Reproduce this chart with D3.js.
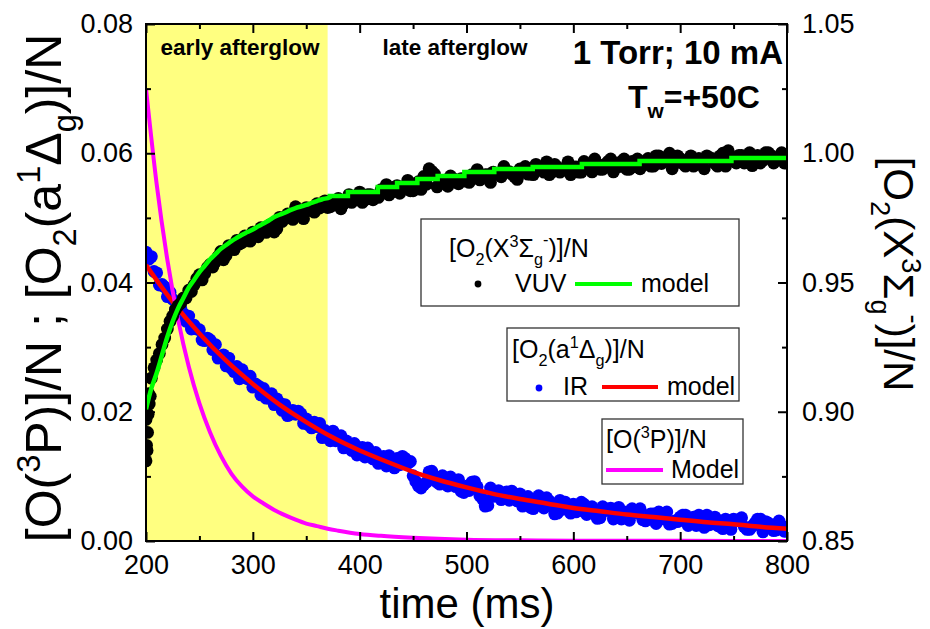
<!DOCTYPE html>
<html><head><meta charset="utf-8">
<script src="https://cdn.jsdelivr.net/npm/d3@7"></script>
<style>
body{margin:0;background:#fff}
svg{display:block}
text{font-family:"Liberation Sans",Arial,sans-serif;fill:#000}
</style>
</head><body>
<svg id="c" width="930" height="629"></svg>
<script>
// ---------------- data ----------------
const sampleStart = 200, sampleEnd = 800, sampleStep = 5; // ms
// IR measurement of [O2(a1Δg)]/N (left axis), samples at 200, 205, ... 800 ms
const irData = [
 .0447,.0440,.0415,.0397,.0378,.0374,.0354,.0352,.0348,.0334,
 .0327,.0310,.0311,.0304,.0284,.0271,.0267,.0270,.0265,.0251,
 .0238,.0240,.0236,.0221,.0211,.0214,.0211,.0196,.0196,.0197,
 .0189,.0175,.0177,.0160,.0167,.0170,.0161,.0144,.0146,.0151,
 .0144,.0130,.0135,.0137,.0124,.0116,.0124,.0128,.0131,.0120,
 .0101,.0085,.0087,.0107,.0100,.0088,.0096,.0099,.0084,.0077,
 .0085,.0091,.0084,.0065,.0055,.0069,.0078,.0072,.0063,.0071,
 .0073,.0060,.0052,.0055,.0064,.0067,.0054,.0043,.0049,.0056,
 .0057,.0047,.0057,.0050,.0041,.0036,.0047,.0051,.0041,.0034,
 .0045,.0050,.0043,.0033,.0035,.0042,.0045,.0034,.0026,.0031,
 .0037,.0040,.0030,.0024,.0033,.0040,.0034,.0024,.0019,.0027,
 .0034,.0031,.0022,.0018,.0028,.0034,.0030,.0021,.0017,.0022,
 .0022];
// IR measurement, interleaved samples at 202.5, 207.5, ... 797.5 ms
const irData2 = [
 .0436,.0417,.0396,.0393,.0385,.0358,.0361,.0340,.0328,.0328,
 .0311,.0314,.0296,.0283,.0288,.0283,.0262,.0251,.0257,.0255,
 .0243,.0226,.0221,.0228,.0220,.0202,.0194,.0202,.0201,.0182,
 .0179,.0184,.0182,.0171,.0155,.0155,.0163,.0155,.0140,.0133,
 .0145,.0144,.0127,.0120,.0131,.0132,.0113,.0118,.0128,.0123,
 .0092,.0082,.0091,.0108,.0091,.0101,.0085,.0093,.0095,.0075,
 .0078,.0092,.0070,.0054,.0082,.0076,.0064,.0076,.0077,.0062,
 .0054,.0069,.0050,.0070,.0051,.0062,.0042,.0063,.0060,.0043,
 .0045,.0060,.0041,.0053,.0035,.0053,.0048,.0034,.0052,.0036,
 .0032,.0047,.0050,.0031,.0042,.0027,.0043,.0045,.0027,.0030,
 .0040,.0024,.0037,.0040,.0021,.0025,.0037,.0022,.0034,.0018,
 .0032,.0036,.0018,.0023,.0034,.0014,.0028,.0016,.0031,.0015];
// VUV measurement of [O2(X3Σg-)]/N (right axis), samples at 200, 205, ... 800 ms
const vuvData = [
 .897,.913,.920,.926,.932,.937,.941,.944,.947,.949,
 .953,.9535,.957,.958,.962,.9605,.964,.9663,.9655,.9675,
 .9695,.9677,.9708,.972,.9695,.9752,.975,.975,.9793,.9774,
 .979,.9778,.9805,.9802,.979,.9815,.9825,.9805,.984,.983,
 .985,.982,.984,.983,.9859,.9879,.9849,.9875,.9865,.9895,
 .9855,.989,.991,.994,.992,.9892,.9882,.9912,.9892,.9902,
 .9897,.9917,.9937,.9907,.9917,.9927,.9919,.9949,.9929,.9909,
 .9939,.9949,.9919,.9957,.9937,.9967,.9927,.9947,.9937,.9967,
 .9947,.9927,.9968,.9948,.9978,.9938,.9958,.9978,.9948,.9968,
 .9938,.9968,.9978,.996,.998,.995,.999,.997,1.000,.996,
 .998,.995,.999,.997,.996,.999,.998,.995,1.000,1.001,
 .9972,.9992,.9962,1.0002,.9982,.9962,1.0002,.9992,.9972,1.0002,
 .9972];
// VUV measurement, interleaved samples at 202.5, 207.5, ... 797.5 ms
const vuvData2 = [
 .907,.917,.9225,.9285,.935,.9395,.942,.944,.9465,.9515,
 .951,.9558,.956,.960,.9588,.9643,.9627,.9649,.968,.966,
 .9681,.9712,.9694,.9727,.9708,.9736,.9765,.9744,.9771,.9747,
 .9784,.9772,.9788,.9816,.9793,.9805,.9785,.9815,.981,.983,
 .981,.984,.982,.9829,.9849,.9839,.9869,.9845,.9865,.9855,
 .9875,.986,.988,.993,.987,.9892,.9872,.9902,.9882,.9892,
 .9887,.9907,.9897,.9917,.9887,.9919,.9909,.9929,.9919,.9899,
 .9929,.9919,.9917,.9937,.9927,.9917,.9957,.9927,.9937,.9917,
 .9947,.9927,.9948,.9928,.9958,.9938,.9968,.9928,.9948,.9978,
 .9938,.9948,.994,.997,.995,.999,.996,.998,.994,.999,
 .996,.997,.995,.998,.994,.998,.996,.999,.995,.998,
 .9962,.9992,.9972,.9952,.9992,.9972,1.0002,.9962,.9982,.9962];
// extra VUV points recorded right after the discharge switch-off
const vuvEarlyTime = [200, 200.5, 201, 201.5, 202, 203, 204];
const vuvEarlyData = [.881, .887, .885, .892, .899, .903, .906];

// VUV model (right axis)
const vuvModelTime = [200,205,210,215,220,225,230,235,240,245,250,255,260,265,270,275,280,285,290,295,
  300,305,310,315,320,325,330,335,340,345,350,355,360,365,372,
  372,389,389,417,417,435,435,454,454,473,473,498,498,526,526,562,562,608,608,662,662,748,748,800];
const vuvModelData = [.901,.909,.915,.922,.929,.935,.940,.944,.948,.951,.954,.9565,.959,.961,.963,.9645,.966,.9673,.9685,.9695,
  .9705,.9717,.9728,.974,.9753,.9762,.977,.978,.9788,.9794,.980,.9808,.9815,.9822,.9830,
  .9835,.9835,.985,.985,.9869,.9869,.9885,.9885,.990,.990,.9912,.9912,.9927,.9927,.9939,.9939,.9947,.9947,.9958,.9958,.997,.997,.9982,.9982];

// IR model (left axis)
const irModelTime = [200,225,250,275,300,325,350,375,400,425,450,475,500,525,550,575,600,625,650,675,700,725,750,775,800];
const irModelData = [.0427,.0370,.0321,.0279,.0243,.0211,.0184,.0160,.0140,.0123,.0107,.0094,.0083,.0073,.0065,.0058,.0051,.0046,.0041,.0037,.0033,.0029,.0026,.0022,.0019];

// O(3P) model (left axis)
const oModelTime = [200,210,220,230,240,250,260,270,280,290,300,310,320,330,340,350,360,370,380,400,420,450,500,550,600,700,800];
const oModelData = [.0700,.0552,.0435,.0343,.0270,.0213,.0168,.0132,.0104,.0084,.0069,.0058,.0048,.0040,.0033,.0027,.0023,.0019,.0016,.0011,.0008,.0005,.0002,.0001,.00005,.00002,0];

const earlyAfterglowEnd = 370; // ms
const xMajor = [200,300,400,500,600,700,800];
const xMinor = [250,350,450,550,650,750];
const yLeftMajor = [0,0.02,0.04,0.06,0.08];
const yLeftMinor = [0.01,0.03,0.05,0.07];
const yRightMajor = [0.85,0.90,0.95,1.00,1.05];
const yRightMinor = [0.875,0.925,0.975,1.025];

// ---------------- layout ----------------
const L = 146, R = 787, T = 24, B = 541;
const svg = d3.select("#c");
const x = d3.scaleLinear().domain([200,800]).range([L,R]);
const yL = d3.scaleLinear().domain([0,0.08]).range([B,T]);
const yR = d3.scaleLinear().domain([0.85,1.05]).range([B,T]);
const sampleTimes = d3.range(sampleStart, sampleEnd + 1, sampleStep);
const sampleTimes2 = sampleTimes.slice(0, -1).map(t => t + sampleStep / 2);

svg.append("defs").append("clipPath").attr("id","clip")
  .append("rect").attr("x",L).attr("y",T).attr("width",R-L).attr("height",B-T);

// yellow early-afterglow band
svg.append("rect").attr("x",x(200)).attr("y",T).attr("width",x(earlyAfterglowEnd)-x(200)).attr("height",B-T)
  .attr("fill","#ffff80");

const g = svg.append("g").attr("clip-path","url(#clip)");
const rDot = 6.4;
function dots(vals, times, yScale, color){
  g.append("g").selectAll("circle").data(vals).join("circle")
    .attr("cx",(d,i)=>x(times[i])).attr("cy",d=>yScale(d)).attr("r",rDot).attr("fill",color);
}
// IR points + model
dots(irData, sampleTimes, yL, "#0000ff");
dots(irData2, sampleTimes2, yL, "#0000ff");
g.append("path").datum(irModelData).attr("fill","none").attr("stroke","#ff0000").attr("stroke-width",4.5)
  .attr("d",d3.line().x((d,i)=>x(irModelTime[i])).y(d=>yL(d)).curve(d3.curveMonotoneX));
// O model
g.append("path").datum(oModelData).attr("fill","none").attr("stroke","#ff00ff").attr("stroke-width",4)
  .attr("d",d3.line().x((d,i)=>x(oModelTime[i])).y(d=>yL(d)).curve(d3.curveMonotoneX));
// VUV points + model
dots(vuvData, sampleTimes, yR, "#000");
dots(vuvData2, sampleTimes2, yR, "#000");
dots(vuvEarlyData, vuvEarlyTime, yR, "#000");
g.append("path").datum(vuvModelData).attr("fill","none").attr("stroke","#00ff00").attr("stroke-width",4.5)
  .attr("d",d3.line().x((d,i)=>x(vuvModelTime[i])).y(d=>yR(d)).curve(d3.curveMonotoneX));

// ---------------- axes ----------------
function styleAxis(sel){
  sel.select(".domain").remove();
  sel.selectAll(".tick line").attr("stroke","#000").attr("stroke-width",2);
  sel.selectAll(".tick text").attr("font-size",27).attr("font-family","Liberation Sans, Arial, sans-serif");
}
const MAJ = 9, MIN = 5;
styleAxis(svg.append("g").attr("transform",`translate(0,${B})`)
  .call(d3.axisBottom(x).tickValues(xMajor).tickSize(-MAJ).tickPadding(14).tickFormat(d3.format("d"))));
styleAxis(svg.append("g").attr("transform",`translate(0,${B})`)
  .call(d3.axisBottom(x).tickValues(xMinor).tickSize(-MIN).tickFormat("")));
styleAxis(svg.append("g").attr("transform",`translate(0,${T})`)
  .call(d3.axisTop(x).tickValues(xMajor).tickSize(-MAJ).tickFormat("")));
styleAxis(svg.append("g").attr("transform",`translate(0,${T})`)
  .call(d3.axisTop(x).tickValues(xMinor).tickSize(-MIN).tickFormat("")));
styleAxis(svg.append("g").attr("transform",`translate(${L},0)`)
  .call(d3.axisLeft(yL).tickValues(yLeftMajor).tickSize(-MAJ).tickPadding(13).tickFormat(d3.format(".2f"))));
styleAxis(svg.append("g").attr("transform",`translate(${L},0)`)
  .call(d3.axisLeft(yL).tickValues(yLeftMinor).tickSize(-MIN).tickFormat("")));
styleAxis(svg.append("g").attr("transform",`translate(${R},0)`)
  .call(d3.axisRight(yR).tickValues(yRightMajor).tickSize(-MAJ).tickPadding(15).tickFormat(d3.format(".2f"))));
styleAxis(svg.append("g").attr("transform",`translate(${R},0)`)
  .call(d3.axisRight(yR).tickValues(yRightMinor).tickSize(-MIN).tickFormat("")));

svg.append("rect").attr("x",L).attr("y",T).attr("width",R-L).attr("height",B-T)
  .attr("fill","none").attr("stroke","#000").attr("stroke-width",2);

// ---------------- rich text helper ----------------
function rich(parent, segs, fs, attrs){
  const t = parent.append("text").attr("font-size",fs);
  for (const k in attrs) t.attr(k, attrs[k]);
  let shift = 0;
  segs.forEach(s=>{
    let target = s.s==="sub" ? 0.3*fs : s.s==="sup" ? -0.42*fs : 0;
    if (s.shift !== undefined) target = s.shift*fs;
    const ts = t.append("tspan").text(s.t).attr("dy", target - shift);
    if (s.s) ts.attr("font-size", 0.65*fs);
    if (s.dx) ts.attr("dx", s.dx);
    shift = target;
  });
  return t;
}
const sigmaG = (fs)=>[{t:"Σ"},{t:"g",s:"sub",shift:0.3},{t:"-",s:"sup",shift:-0.5}];

// ---------------- annotations ----------------
svg.append("text").attr("x",240).attr("y",55).attr("text-anchor","middle").attr("font-size",22.5)
  .attr("font-weight","bold").text("early afterglow");
svg.append("text").attr("x",455).attr("y",55).attr("text-anchor","middle").attr("font-size",22.5)
  .attr("font-weight","bold").text("late afterglow");
svg.append("text").attr("x",783).attr("y",64).attr("text-anchor","end").attr("font-size",33)
  .attr("font-weight","bold").text("1 Torr; 10 mA");
rich(svg, [{t:"T"},{t:"w",s:"sub"},{t:"=+50C"}], 32, {x:628, y:108, "font-weight":"bold"});

// ---------------- axis titles ----------------
svg.append("text").attr("x",467).attr("y",618).attr("text-anchor","middle").attr("font-size",42).text("time (ms)");
rich(svg, [{t:"[O("},{t:"3",s:"sup"},{t:"P)]/N ; [O"},{t:"2",s:"sub"},{t:"(a"},{t:"1",s:"sup"},{t:"Δ"},{t:"g",s:"sub"},{t:")]/N"}],
  50, {transform:"translate(61,288) rotate(-90)", "text-anchor":"middle"});
rich(svg, [{t:"[O"},{t:"2",s:"sub"},{t:"(X"},{t:"3",s:"sup"},...sigmaG(42),{t:")]/N"}],
  42, {transform:"translate(884,274) rotate(90)", "text-anchor":"middle"});

// ---------------- legends ----------------
const LF = 25;
function box(x0,y0,x1,y1){ svg.append("rect").attr("x",x0).attr("y",y0).attr("width",x1-x0).attr("height",y1-y0)
  .attr("fill","#fff").attr("stroke","#333").attr("stroke-width",1.3); }
// legend 1
box(421,219,739,306);
rich(svg, [{t:"[O"},{t:"2",s:"sub"},{t:"(X"},{t:"3",s:"sup"},...sigmaG(LF),{t:")]/N"}], LF, {x:449, y:257});
svg.append("circle").attr("cx",478).attr("cy",284).attr("r",3.4).attr("fill","#000");
svg.append("text").attr("x",515).attr("y",292).attr("font-size",LF).text("VUV");
svg.append("line").attr("x1",575).attr("x2",632).attr("y1",284).attr("y2",284).attr("stroke","#00ff00").attr("stroke-width",4);
svg.append("text").attr("x",641).attr("y",292).attr("font-size",LF).text("model");
// legend 2
box(507,328,739,401);
rich(svg, [{t:"[O"},{t:"2",s:"sub"},{t:"(a"},{t:"1",s:"sup"},{t:"Δ"},{t:"g",s:"sub"},{t:")]/N"}], LF, {x:512, y:358});
svg.append("circle").attr("cx",539).attr("cy",388).attr("r",3.4).attr("fill","#0000ff");
svg.append("text").attr("x",563).attr("y",395).attr("font-size",LF).text("IR");
svg.append("line").attr("x1",602).attr("x2",658).attr("y1",387).attr("y2",387).attr("stroke","#ff0000").attr("stroke-width",4);
svg.append("text").attr("x",667).attr("y",395).attr("font-size",LF).text("model");
// legend 3
box(602,419,743,484);
rich(svg, [{t:"[O("},{t:"3",s:"sup"},{t:"P)]/N"}], LF, {x:606, y:448});
svg.append("line").attr("x1",606).attr("x2",663).attr("y1",470).attr("y2",470).attr("stroke","#ff00ff").attr("stroke-width",4);
svg.append("text").attr("x",671).attr("y",478).attr("font-size",LF).text("Model");
</script>
</body></html>
